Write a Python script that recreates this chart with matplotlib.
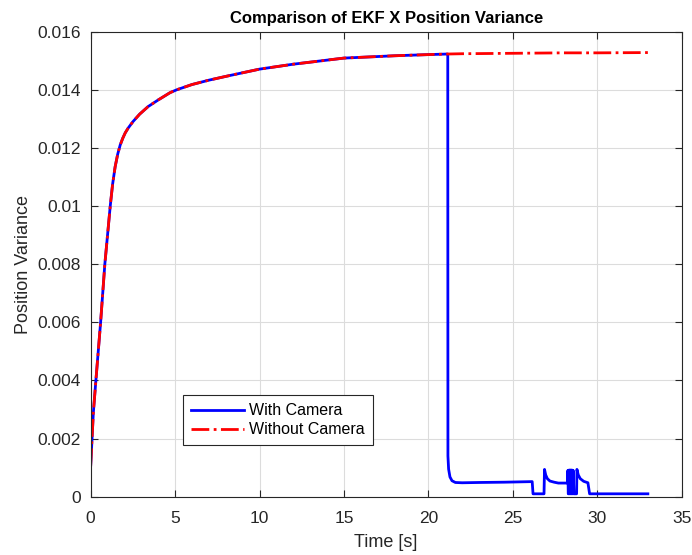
import matplotlib
matplotlib.use("Agg")
import matplotlib.pyplot as plt

plt.rcParams["font.family"] = ["Liberation Sans", "DejaVu Sans"]

# variance growth, shared by both runs until the camera kicks in
t_common = [0.0, 0.16, 0.31, 0.59, 0.84, 1.16, 1.3, 1.45, 1.6, 1.75, 1.9, 2.05,
            2.22, 2.5, 2.9, 3.4, 4.0, 4.7, 5.1, 6.0, 7.0, 8.0, 10.0, 12.0, 15.0,
            18.0, 20.0, 21.15]
v_common = [0.00105, 0.0029, 0.0040, 0.0060, 0.0080, 0.0100, 0.01075, 0.01135,
            0.01178, 0.0121, 0.01233, 0.01252, 0.01268, 0.0129, 0.01316, 0.01342,
            0.01365, 0.0139, 0.0140, 0.01418, 0.01433, 0.01446, 0.01471, 0.01488,
            0.01509, 0.01517, 0.01521, 0.01523]

# without camera: keeps creeping up
t_nocam_tail = [22.0, 24.0, 26.0, 28.0, 30.0, 33.0]
v_nocam_tail = [0.01524, 0.01525, 0.01526, 0.01527, 0.01527, 0.01528]

# with camera: collapse at ~21 s, then updates come and go
t_cam_tail = [21.16, 21.2, 21.28, 21.4, 21.6, 22.0, 23.0, 24.5, 26.15, 26.2,
              26.85, 26.88, 26.95, 27.05, 27.2, 27.45, 27.7, 28.25,
              28.26, 28.29, 28.30, 28.33, 28.34, 28.37, 28.38, 28.41, 28.42,
              28.45, 28.46, 28.49, 28.50, 28.53, 28.54, 28.57, 28.58, 28.62,
              28.65, 28.78, 28.80, 28.88, 29.0, 29.2, 29.45, 29.55, 33.0]
v_cam_tail = [0.0014, 0.00095, 0.00068, 0.00055, 0.00049, 0.00048, 0.00049,
              0.0005, 0.00052, 0.0001,
              0.0001, 0.00094, 0.00075, 0.00062, 0.00054, 0.0005, 0.00047, 0.00047,
              0.0009, 0.0001, 0.0009, 0.0001, 0.00092, 0.0001, 0.0009, 0.0001,
              0.00092, 0.0001, 0.0009, 0.0001, 0.00092, 0.0001, 0.0009, 0.0001,
              0.0009, 0.0001,
              0.0001, 0.0001, 0.00094, 0.00075, 0.00062, 0.00053, 0.00048, 0.0001,
              0.0001]

t_cam = t_common + t_cam_tail
v_cam = v_common + v_cam_tail
t_nocam = t_common + t_nocam_tail
v_nocam = v_common + v_nocam_tail

fig = plt.figure(figsize=(6.92, 5.55), dpi=100)
ax = fig.add_axes([0.131, 0.105, 0.854, 0.838])

ax.plot(t_cam, v_cam, color="blue", linewidth=2, label="With Camera")
ax.plot(t_nocam, v_nocam, color="red", linestyle="-.", linewidth=2, label="Without Camera")

ax.set_xlim(0, 35)
ax.set_ylim(0, 0.016)
ax.set_xticks(range(0, 36, 5))
ax.set_yticks([0, 0.002, 0.004, 0.006, 0.008, 0.01, 0.012, 0.014, 0.016])
ax.set_yticklabels(["0", "0.002", "0.004", "0.006", "0.008", "0.01", "0.012", "0.014", "0.016"])

ax.grid(True, color="#dcdcdc", linewidth=0.8)
ax.set_axisbelow(True)
ax.tick_params(direction="in", top=True, right=True, length=5, width=0.8,
               labelsize=12.5, colors="#262626")
ax.tick_params(axis="x", pad=10)
ax.tick_params(axis="y", pad=7)
for sp in ax.spines.values():
    sp.set_color("#262626")
    sp.set_linewidth(0.8)

ax.set_title("Comparison of EKF X Position Variance", fontsize=12, fontweight="bold", pad=6)
ax.set_xlabel("Time [s]", fontsize=13, color="#262626", labelpad=6)
ax.set_ylabel("Position Variance", fontsize=13, color="#262626", labelpad=4)

leg = ax.legend(loc="lower left", bbox_to_anchor=(0.156, 0.111), fontsize=11.5,
                fancybox=False, handlelength=3.3, handletextpad=0.35, borderaxespad=0,
                framealpha=1, edgecolor="#262626", borderpad=0.5, labelspacing=0.25)
leg.get_frame().set_linewidth(0.8)

plt.savefig("out.png", dpi=100)
